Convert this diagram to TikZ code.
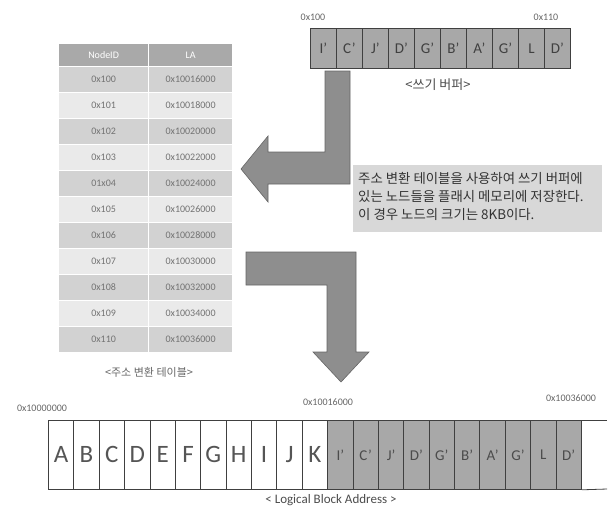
\documentclass[tikz,border=0pt]{standalone}
\usepackage{fontspec}
\setmainfont{Carlito}
\newfontfamily\kr{Noto Sans CJK KR}
\definecolor{cellgray}{HTML}{A8A8A8}
\definecolor{arrowgray}{HTML}{8E8E8E}
\definecolor{hdrgray}{HTML}{A9A9A9}
\definecolor{rowdark}{HTML}{D2D2D2}
\definecolor{rowlight}{HTML}{EAEAEA}
\definecolor{boxgray}{HTML}{D8D8D8}
\definecolor{txtgray}{HTML}{555555}
\tikzset{
  bufcell/.style={draw=black!75, line width=0.8pt, fill=cellgray, minimum width=26pt, minimum height=40pt, inner sep=0pt, anchor=north west, font=\fontsize{15}{15}\selectfont, text=black!75},
  lbawhite/.style={draw=black!75, line width=0.8pt, fill=white, minimum width=25.38pt, minimum height=69pt, inner sep=0pt, anchor=north west, font=\fontsize{25}{25}\selectfont, text=txtgray},
  lbashade/.style={lbawhite, fill=cellgray, font=\fontsize{15}{15}\selectfont, text=black!70},
  tcell/.style={minimum height=26pt, inner sep=0pt, anchor=north west, draw=white, line width=1.2pt, font=\fontsize{10}{10}\selectfont, text=black!55},
  addr/.style={font=\fontsize{10}{10}\selectfont, text=black!60, inner sep=0pt},
  captext/.style={font=\fontsize{13}{13}\selectfont, text=black!70, inner sep=0pt},
  bigarrow/.style={fill=arrowgray, draw=black!60, line width=0.6pt, line join=miter},
}
\begin{document}
\begin{tikzpicture}[x=1pt,y=-1pt]
\useasboundingbox (0,0) rectangle (609,507);
% write buffer
\foreach \t [count=\i from 0] in {I',C',J',D',G',B',A',G',L,D'}{
  \node[bufcell] (b\i) at ({310+26*\i},28) {\t};
}
\node[addr] (lb100) at (313,17) {0x100};
\node[addr] (lb110) at (546,17) {0x110};
\node[captext, font=\kr\fontsize{13}{13}\selectfont] (capbuf) at (438,85) {<쓰기 버퍼>};
% table
\node[tcell, fill=hdrgray, minimum width=90pt, minimum height=23pt, text=white] (h1) at (58,43) {NodeID};
\node[tcell, fill=hdrgray, minimum width=84pt, minimum height=23pt, text=white] (h2) at (148,43) {LA};
\foreach \a/\b [count=\i from 0] in {0x100/0x10016000,0x101/0x10018000,0x102/0x10020000,0x103/0x10022000,01x04/0x10024000,0x105/0x10026000,0x106/0x10028000,0x107/0x10030000,0x108/0x10032000,0x109/0x10034000,0x110/0x10036000}{
  \pgfmathsetmacro\isodd{mod(\i,2)}
  \ifdim\isodd pt=0pt \def\rc{rowdark}\else\def\rc{rowlight}\fi
  \node[tcell, fill=\rc, minimum width=90pt] (ta\i) at (58,{66+26*\i}) {\a};
  \node[tcell, fill=\rc, minimum width=84pt] (tb\i) at (148,{66+26*\i}) {\b};
}
\node[captext, font=\kr\fontsize{11}{11}\selectfont, text=black!60] (captab) at (149,372) {<주소 변환 테이블>};
% arrows
\path[bigarrow] (325,71) -- (350,71) -- (350,184) -- (268,184) -- (268,202) -- (241,169) -- (268,136) -- (268,152) -- (325,152) -- cycle;
\path[bigarrow] (246,252) -- (356,252) -- (356,352) -- (369,352) -- (341,382) -- (313,352) -- (327,352) -- (327,285) -- (246,285) -- cycle;
% text box
\node[fill=boxgray, minimum width=249pt, minimum height=67pt, anchor=north west, inner sep=0pt] (tbox) at (353,165) {};
\node[anchor=north west, align=left, inner sep=0pt, font=\kr\fontsize{13.4}{18}\selectfont, text=black!80] (tboxtxt) at (358,172) {주소 변환 테이블을 사용하여 쓰기 버퍼에\\있는 노드들을 플래시 메모리에 저장한다.\\이 경우 노드의 크기는 8KB이다.};
% logical block address
\foreach \t [count=\i from 0] in {A,B,C,D,E,F,G,H,I,J,K}{
  \node[lbawhite] (w\i) at ({48+25.38*\i},420) {\t};
}
\foreach \t [count=\i from 0] in {I',C',J',D',G',B',A',G',L,D'}{
  \node[lbashade] (s\i) at ({327.2+25.38*\i},420) {\t};
}
\coordinate (endtop) at (607,420);
\coordinate (endbot) at (607,489);
\draw[draw=black!75, line width=0.8pt] (s9.north east) -- (endtop);
\draw[draw=black!75, line width=0.8pt] (s9.south east) -- (endbot);
\node[addr] (l0) at (42,408) {0x10000000};
\node[addr] (l1) at (328,402) {0x10016000};
\node[addr] (l2) at (571,398) {0x10036000};
\node[captext] (caplba) at (331,500) {< Logical Block Address >};
\end{tikzpicture}
\end{document}
